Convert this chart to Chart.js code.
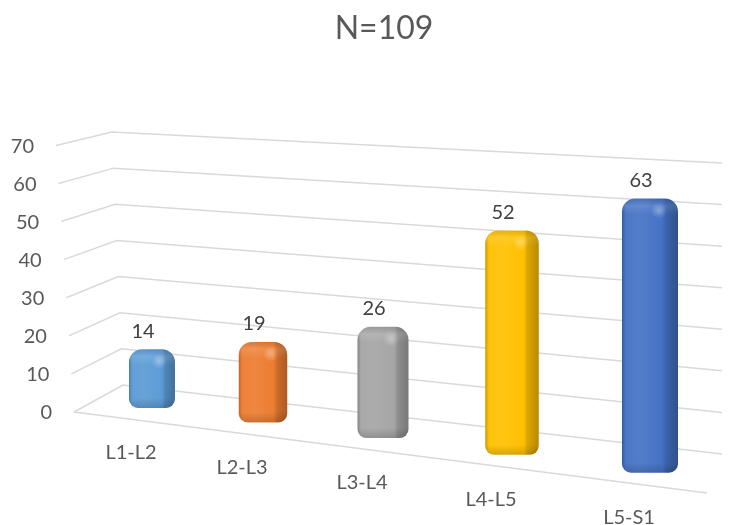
<!DOCTYPE html>
<html>
<head>
<meta charset="utf-8">
<script src="https://cdn.jsdelivr.net/npm/chart.js@4.4.0/dist/chart.umd.min.js"></script>
<style>
html,body{margin:0;padding:0;background:#fff;}
#wrap{width:730px;height:525px;}
</style>
</head>
<body>
<div id="wrap"><canvas id="levelsChart" width="730" height="525"></canvas></div>
<script>
//Data
var levels = ["L1-L2","L2-L3","L3-L4","L4-L5","L5-S1"];
var counts = [14,19,26,52,63];
var barColors = ["#5B9BD5","#ED7D31","#A5A5A5","#FFC000","#4472C4"];
var yTicks = [0,10,20,30,40,50,60,70];
var titleText = "N=109";

//Colour helper: amt>0 mixes toward white, amt<0 toward black
function shade(hex,amt){
	var n = parseInt(hex.slice(1),16);
	var c = [(n>>16)&255,(n>>8)&255,n&255].map(function(v){
		return Math.round(amt>0 ? v+(255-v)*amt : v*(1+amt));
	});
	return "rgb("+c.join(",")+")";
}

//Rounded 3D-ish column
function drawColumn(ctx,x,y,w,h,c){
	ctx.save();
	ctx.beginPath();
	ctx.roundRect(x,y,w,h,[13,13,9,9]);
	var g = ctx.createLinearGradient(x,0,x+w,0);
	g.addColorStop(0,shade(c,-0.2));
	g.addColorStop(0.07,shade(c,0.04));
	g.addColorStop(0.32,shade(c,0.08));
	g.addColorStop(0.72,c);
	g.addColorStop(0.79,shade(c,-0.14));
	g.addColorStop(1,shade(c,-0.28));
	ctx.fillStyle = g;
	ctx.fill();
	ctx.clip();
	//cap top face
	var tg = ctx.createLinearGradient(0,y,0,y+16);
	tg.addColorStop(0,"rgba(0,0,0,0.1)");
	tg.addColorStop(0.45,"rgba(255,255,255,0.1)");
	tg.addColorStop(1,"rgba(255,255,255,0)");
	ctx.fillStyle = tg;
	ctx.fillRect(x,y,w,16);
	//highlight
	var r = ctx.createRadialGradient(x+w*0.66,y+12,0,x+w*0.66,y+12,8);
	r.addColorStop(0,"rgba(255,255,255,0.32)");
	r.addColorStop(1,"rgba(255,255,255,0)");
	ctx.fillStyle = r;
	ctx.fillRect(x,y,w,26);
	//bottom shading
	var bg = ctx.createLinearGradient(0,y+h-10,0,y+h);
	bg.addColorStop(0,"rgba(0,0,0,0)");
	bg.addColorStop(1,"rgba(0,0,0,0.16)");
	ctx.fillStyle = bg;
	ctx.fillRect(x,y+h-10,w,10);
	ctx.restore();
}

//Perspective walls, floor and columns
var view3d = {
	id:'view3d',
	beforeDatasetsDraw:function(chart){
		var ctx = chart.ctx, ys = chart.scales.y, xs = chart.scales.x;
		var p0 = ys.getPixelForValue(0);
		var span = p0 - ys.getPixelForValue(70);
		ctx.save();
		//gridlines: side wall + back wall
		ctx.strokeStyle = "#D9D9D9";
		ctx.lineWidth = 1.5;
		ctx.font = "20px Lato";
		ctx.fillStyle = "#595959";
		ctx.textAlign = "right";
		ctx.textBaseline = "middle";
		ys.ticks.forEach(function(t){
			var py = ys.getPixelForValue(t.value);
			var f = (p0 - py)/span;
			var fx = 74 - 18*f, fy = py;
			var cx = 123 - 11*f, cy = 385 - 253*f;
			var ex = 722, ey = 454 - 291*f;
			ctx.beginPath();
			ctx.moveTo(fx,fy);
			ctx.lineTo(cx,cy);
			ctx.lineTo(ex,ey);
			ctx.stroke();
			ctx.fillText(String(t.value),fx-22,fy+1);
		});
		//floor front edge
		ctx.beginPath();
		ctx.moveTo(74,p0);
		ctx.lineTo(707,493);
		ctx.stroke();
		//columns
		var meta = chart.getDatasetMeta(0);
		var u0 = xs.getPixelForValue(0), du = xs.getPixelForValue(1) - u0;
		var kPx = 4.2/(span/70);
		meta.data.forEach(function(el,n){
			var p = el.getProps(['x','y','base','width'],true);
			var i = (p.x - u0)/du;
			var X = 152 + 106.5*i + 4.5*i*i;
			var B = 408 + 0.13*(X - 152);
			var h = (p.base - p.y)*kPx*(1 + 0.009*i);
			var w = p.width*(1 + 0.055*i);
			drawColumn(ctx,X - w/2,B - h,w,h,barColors[n]);
			ctx.textAlign = "center";
			ctx.textBaseline = "middle";
			ctx.fillStyle = "#404040";
			ctx.font = "20px Lato";
			ctx.fillText(String(counts[n]),X - 9,B - h - 18);
			ctx.fillStyle = "#595959";
			ctx.font = "20px Lato";
			ctx.fillText(levels[n],X - 21,B + 45);
		});
		ctx.restore();
		return false;
	}
};

Chart.defaults.font.family = "Lato";
var levelsChart = new Chart(document.getElementById("levelsChart"),{
	type:'bar',
	data:{
		labels:levels,
		datasets:[{
			label:'Count',
			data:counts,
			backgroundColor:barColors,
			categoryPercentage:1,
			barPercentage:0.467
		}]
	},
	options:{
		responsive:false,
		animation:false,
		devicePixelRatio:1,
		layout:{padding:{left:138,right:100,top:0,bottom:113}},
		plugins:{
			legend:{display:false},
			tooltip:{enabled:false},
			title:{
				display:true,
				text:titleText,
				color:"#595959",
				font:{family:"Lato",size:32,weight:"normal"},
				padding:{top:9,bottom:98}
			}
		},
		scales:{
			x:{display:false},
			y:{
				display:false,
				min:0,
				max:70,
				afterBuildTicks:function(axis){
					axis.ticks = yTicks.map(function(v){return {value:v};});
				}
			}
		}
	},
	plugins:[view3d]
});
</script>
</body>
</html>
